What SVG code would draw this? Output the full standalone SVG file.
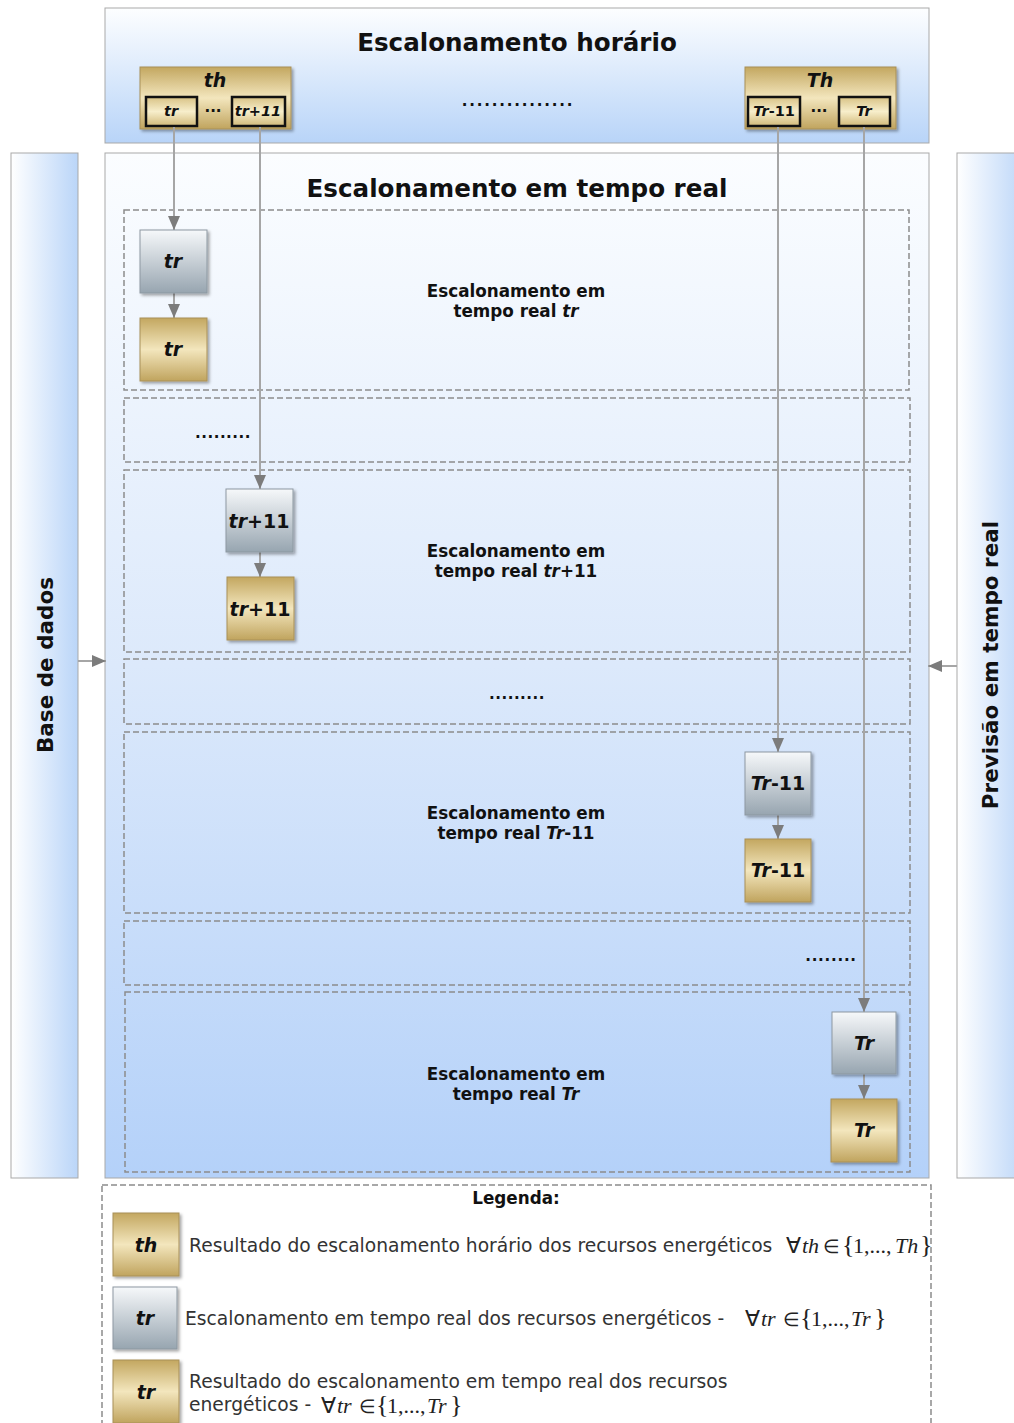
<svg xmlns="http://www.w3.org/2000/svg" width="1014" height="1423" viewBox="0 0 1014 1423">
  <defs>
    <linearGradient id="gPanelTop" x1="0" y1="0" x2="0" y2="1">
      <stop offset="0" stop-color="#fdfeff"/>
      <stop offset="1" stop-color="#b8d4f8"/>
    </linearGradient>
    <linearGradient id="gPanelMain" x1="0" y1="0" x2="0" y2="1">
      <stop offset="0" stop-color="#fbfdff"/>
      <stop offset="0.5" stop-color="#dce9fb"/>
      <stop offset="1" stop-color="#b4d1f9"/>
    </linearGradient>
    <linearGradient id="gSide" x1="0" y1="0" x2="1" y2="0">
      <stop offset="0" stop-color="#ffffff"/>
      <stop offset="1" stop-color="#bad5f8"/>
    </linearGradient>
    <linearGradient id="gGold" x1="0" y1="0" x2="0" y2="1">
      <stop offset="0" stop-color="#c3a760"/>
      <stop offset="0.5" stop-color="#f3e6bd"/>
      <stop offset="1" stop-color="#c0a45e"/>
    </linearGradient>
    <linearGradient id="gGoldInner" x1="0" y1="0" x2="0" y2="1">
      <stop offset="0" stop-color="#d8c285"/>
      <stop offset="0.5" stop-color="#f7eecb"/>
      <stop offset="1" stop-color="#d2ba7a"/>
    </linearGradient>
    <linearGradient id="gGray" x1="0" y1="0" x2="0" y2="1">
      <stop offset="0" stop-color="#f6f8fa"/>
      <stop offset="1" stop-color="#97a5b0"/>
    </linearGradient>
    <filter id="shadow" x="-20%" y="-20%" width="150%" height="150%">
      <feDropShadow dx="2" dy="2" stdDeviation="1.5" flood-color="#000" flood-opacity="0.35"/>
    </filter>
    <marker id="arrow" markerUnits="userSpaceOnUse" markerWidth="14" markerHeight="12" refX="14" refY="6" orient="auto">
      <path d="M0,0 L14,6 L0,12 z" fill="#7c7c7c"/>
    </marker>
    <style>
      .panel { stroke: #a9a9a9; stroke-width: 1; }
      .zone { fill: none; stroke: #8c8c8c; stroke-width: 1.5; stroke-dasharray: 6 3; }
      .title { font-family: "DejaVu Sans", Verdana, sans-serif; font-weight: bold; font-size: 24.6px; fill: #111; text-anchor: middle; }
      .side { font-family: "DejaVu Sans", Verdana, sans-serif; font-weight: bold; font-size: 21.5px; fill: #111; text-anchor: middle; }
      .zlabel { font-family: "DejaVu Sans", Verdana, sans-serif; font-weight: bold; font-size: 16.8px; fill: #111; text-anchor: middle; }
      .dots { font-family: "DejaVu Sans", Verdana, sans-serif; font-weight: bold; font-size: 15px; fill: #111; text-anchor: middle; }
      .nlabel { font-family: "DejaVu Sans", Verdana, sans-serif; font-weight: bold; font-size: 19px; fill: #111; text-anchor: middle; }
      .it { font-style: italic; }
      .small { font-family: "DejaVu Sans", Verdana, sans-serif; font-weight: bold; font-style: italic; font-size: 14.5px; fill: #111; text-anchor: middle; }
      .gold { fill: url(#gGold); stroke: #a89058; stroke-width: 1; filter: url(#shadow); }
      .gray { fill: url(#gGray); stroke: #8d98a1; stroke-width: 1; filter: url(#shadow); }
      .inner { fill: url(#gGoldInner); stroke: #111; stroke-width: 2.5; }
      .conn { fill: none; stroke: #a6a6a6; stroke-width: 2; marker-end: url(#arrow); }
      .legend { font-family: "DejaVu Sans", Verdana, sans-serif; font-size: 18.7px; fill: #333; }
      .math { font-family: "Liberation Serif", "Times New Roman", serif; font-size: 22px; fill: #222; }
      .mi { font-style: italic; }
      .brace { font-size: 26px; }
      .elem { font-size: 19px; }
    </style>
  </defs>

  <rect width="1014" height="1423" fill="#ffffff"/>

  <!-- Side panels -->
  <g id="base-de-dados">
    <rect class="panel" x="11" y="153" width="67" height="1025" fill="url(#gSide)"/>
    <text class="side" transform="translate(53,665) rotate(-90)">Base de dados</text>
  </g>
  <g id="previsao-tempo-real">
    <rect class="panel" x="957" y="153" width="70" height="1025" fill="url(#gSide)"/>
    <text class="side" transform="translate(998,665) rotate(-90)">Previsão em tempo real</text>
  </g>

  <!-- Hourly scheduling panel -->
  <g id="escalonamento-horario">
    <rect class="panel" x="105" y="8" width="824" height="135" fill="url(#gPanelTop)"/>
    <text class="title" x="517" y="51">Escalonamento horário</text>
    <text class="dots" x="518" y="106" letter-spacing="1.8">...............</text>
  </g>

  <g id="node-th">
    <rect class="gold" x="140" y="67" width="151" height="62"/>
    <text class="nlabel it" x="215" y="87">th</text>
    <rect class="inner" x="146" y="97" width="51" height="29"/>
    <text class="small" x="171" y="116">tr</text>
    <text class="dots" x="213" y="112">...</text>
    <rect class="inner" x="232" y="97" width="53" height="29"/>
    <text class="small" x="258" y="116">tr+11</text>
  </g>

  <g id="node-Th">
    <rect class="gold" x="745" y="67" width="151" height="62"/>
    <text class="nlabel it" x="820" y="87">Th</text>
    <rect class="inner" x="748" y="97" width="52" height="29"/>
    <text class="small" x="774" y="116"><tspan>Tr</tspan><tspan font-style="normal">-11</tspan></text>
    <text class="dots" x="819" y="112">...</text>
    <rect class="inner" x="839" y="97" width="51" height="29"/>
    <text class="small" x="864" y="116">Tr</text>
  </g>

  <!-- Real-time scheduling panel -->
  <g id="escalonamento-tempo-real">
    <rect class="panel" x="105" y="153" width="824" height="1025" fill="url(#gPanelMain)"/>
    <text class="title" x="517" y="197">Escalonamento em tempo real</text>
  </g>

  <g id="zona-tr">
    <rect class="zone" x="124" y="210" width="785" height="180"/>
    <text class="zlabel" x="516" y="297">Escalonamento em</text>
    <text class="zlabel" x="516" y="317">tempo real <tspan class="it">tr</tspan></text>
  </g>
  <g id="zona-dots-1">
    <rect class="zone" x="124" y="398" width="786" height="64"/>
    <text class="dots" x="223" y="438" letter-spacing="0.5">.........</text>
  </g>
  <g id="zona-tr11">
    <rect class="zone" x="124" y="470" width="786" height="182"/>
    <text class="zlabel" x="516" y="557">Escalonamento em</text>
    <text class="zlabel" x="516" y="577">tempo real <tspan class="it">tr</tspan>+11</text>
  </g>
  <g id="zona-dots-2">
    <rect class="zone" x="124" y="659" width="786" height="65"/>
    <text class="dots" x="517" y="699" letter-spacing="0.5">.........</text>
  </g>
  <g id="zona-Tr11">
    <rect class="zone" x="124" y="732" width="786" height="181"/>
    <text class="zlabel" x="516" y="819">Escalonamento em</text>
    <text class="zlabel" x="516" y="839">tempo real <tspan class="it">Tr</tspan>-11</text>
  </g>
  <g id="zona-dots-3">
    <rect class="zone" x="124" y="921" width="786" height="64"/>
    <text class="dots" x="831" y="961" letter-spacing="0.75">........</text>
  </g>
  <g id="zona-Tr">
    <rect class="zone" x="125" y="992" width="785" height="180"/>
    <text class="zlabel" x="516" y="1080">Escalonamento em</text>
    <text class="zlabel" x="516" y="1100">tempo real <tspan class="it">Tr</tspan></text>
  </g>

  <!-- Connectors -->
  <g id="connectors">
    <line class="conn" x1="174" y1="127" x2="174" y2="230"/>
    <line class="conn" x1="174" y1="293" x2="174" y2="318"/>
    <line class="conn" x1="260" y1="127" x2="260" y2="489"/>
    <line class="conn" x1="260" y1="552" x2="260" y2="577"/>
    <line class="conn" x1="778" y1="127" x2="778" y2="752"/>
    <line class="conn" x1="778" y1="815" x2="778" y2="839"/>
    <line class="conn" x1="864" y1="127" x2="864" y2="1012"/>
    <line class="conn" x1="864" y1="1074" x2="864" y2="1099"/>
    <line class="conn" x1="78" y1="661" x2="106" y2="661"/>
    <line class="conn" x1="957" y1="666" x2="928" y2="666"/>
  </g>

  <!-- Real-time nodes -->
  <g id="node-tr-sched">
    <rect class="gray" x="140" y="230" width="67" height="63"/>
    <text class="nlabel it" x="173" y="268">tr</text>
  </g>
  <g id="node-tr-result">
    <rect class="gold" x="140" y="318" width="67" height="63"/>
    <text class="nlabel it" x="173" y="356">tr</text>
  </g>
  <g id="node-tr11-sched">
    <rect class="gray" x="226" y="489" width="67" height="63"/>
    <text class="nlabel" x="259" y="528"><tspan class="it">tr</tspan>+11</text>
  </g>
  <g id="node-tr11-result">
    <rect class="gold" x="227" y="577" width="67" height="63"/>
    <text class="nlabel" x="260" y="616"><tspan class="it">tr</tspan>+11</text>
  </g>
  <g id="node-Tr11-sched">
    <rect class="gray" x="745" y="752" width="66" height="63"/>
    <text class="nlabel" x="778" y="790"><tspan class="it">Tr</tspan>-11</text>
  </g>
  <g id="node-Tr11-result">
    <rect class="gold" x="745" y="839" width="66" height="63"/>
    <text class="nlabel" x="778" y="877"><tspan class="it">Tr</tspan>-11</text>
  </g>
  <g id="node-Tr-sched">
    <rect class="gray" x="832" y="1012" width="64" height="62"/>
    <text class="nlabel it" x="864" y="1050">Tr</text>
  </g>
  <g id="node-Tr-result">
    <rect class="gold" x="831" y="1099" width="66" height="63"/>
    <text class="nlabel it" x="864" y="1137">Tr</text>
  </g>

  <!-- Legend -->
  <g id="legenda">
    <rect class="zone" x="102" y="1185" width="829" height="250"/>
    <text class="zlabel" x="516" y="1204">Legenda:</text>

    <rect class="gold" x="113" y="1213" width="66" height="63"/>
    <text class="nlabel it" x="146" y="1252">th</text>
    <text class="legend" x="189" y="1252">Resultado do escalonamento horário dos recursos energéticos</text>
    <text class="math" y="1253"><tspan x="786">∀</tspan><tspan class="mi" x="802">th</tspan><tspan class="elem" x="823">∈</tspan><tspan class="brace" x="842">{</tspan><tspan x="853">1,...,</tspan><tspan class="mi" x="895">Th</tspan><tspan class="brace" x="920">}</tspan></text>

    <rect class="gray" x="113" y="1287" width="64" height="62"/>
    <text class="nlabel it" x="145" y="1325">tr</text>
    <text class="legend" x="185" y="1325">Escalonamento em tempo real dos recursos energéticos -</text>
    <text class="math" y="1326"><tspan x="745">∀</tspan><tspan class="mi" x="761">tr</tspan><tspan class="elem" x="783">∈</tspan><tspan class="brace" x="800">{</tspan><tspan x="811">1,...,</tspan><tspan class="mi" x="851">Tr</tspan><tspan class="brace" x="874">}</tspan></text>

    <rect class="gold" x="113" y="1360" width="66" height="63"/>
    <text class="nlabel it" x="146" y="1399">tr</text>
    <text class="legend" x="189" y="1388">Resultado do escalonamento em tempo real dos recursos</text>
    <text class="legend" x="189" y="1411">energéticos -</text>
    <text class="math" y="1413"><tspan x="321">∀</tspan><tspan class="mi" x="337">tr</tspan><tspan class="elem" x="359">∈</tspan><tspan class="brace" x="376">{</tspan><tspan x="387">1,...,</tspan><tspan class="mi" x="427">Tr</tspan><tspan class="brace" x="450">}</tspan></text>
  </g>
</svg>
